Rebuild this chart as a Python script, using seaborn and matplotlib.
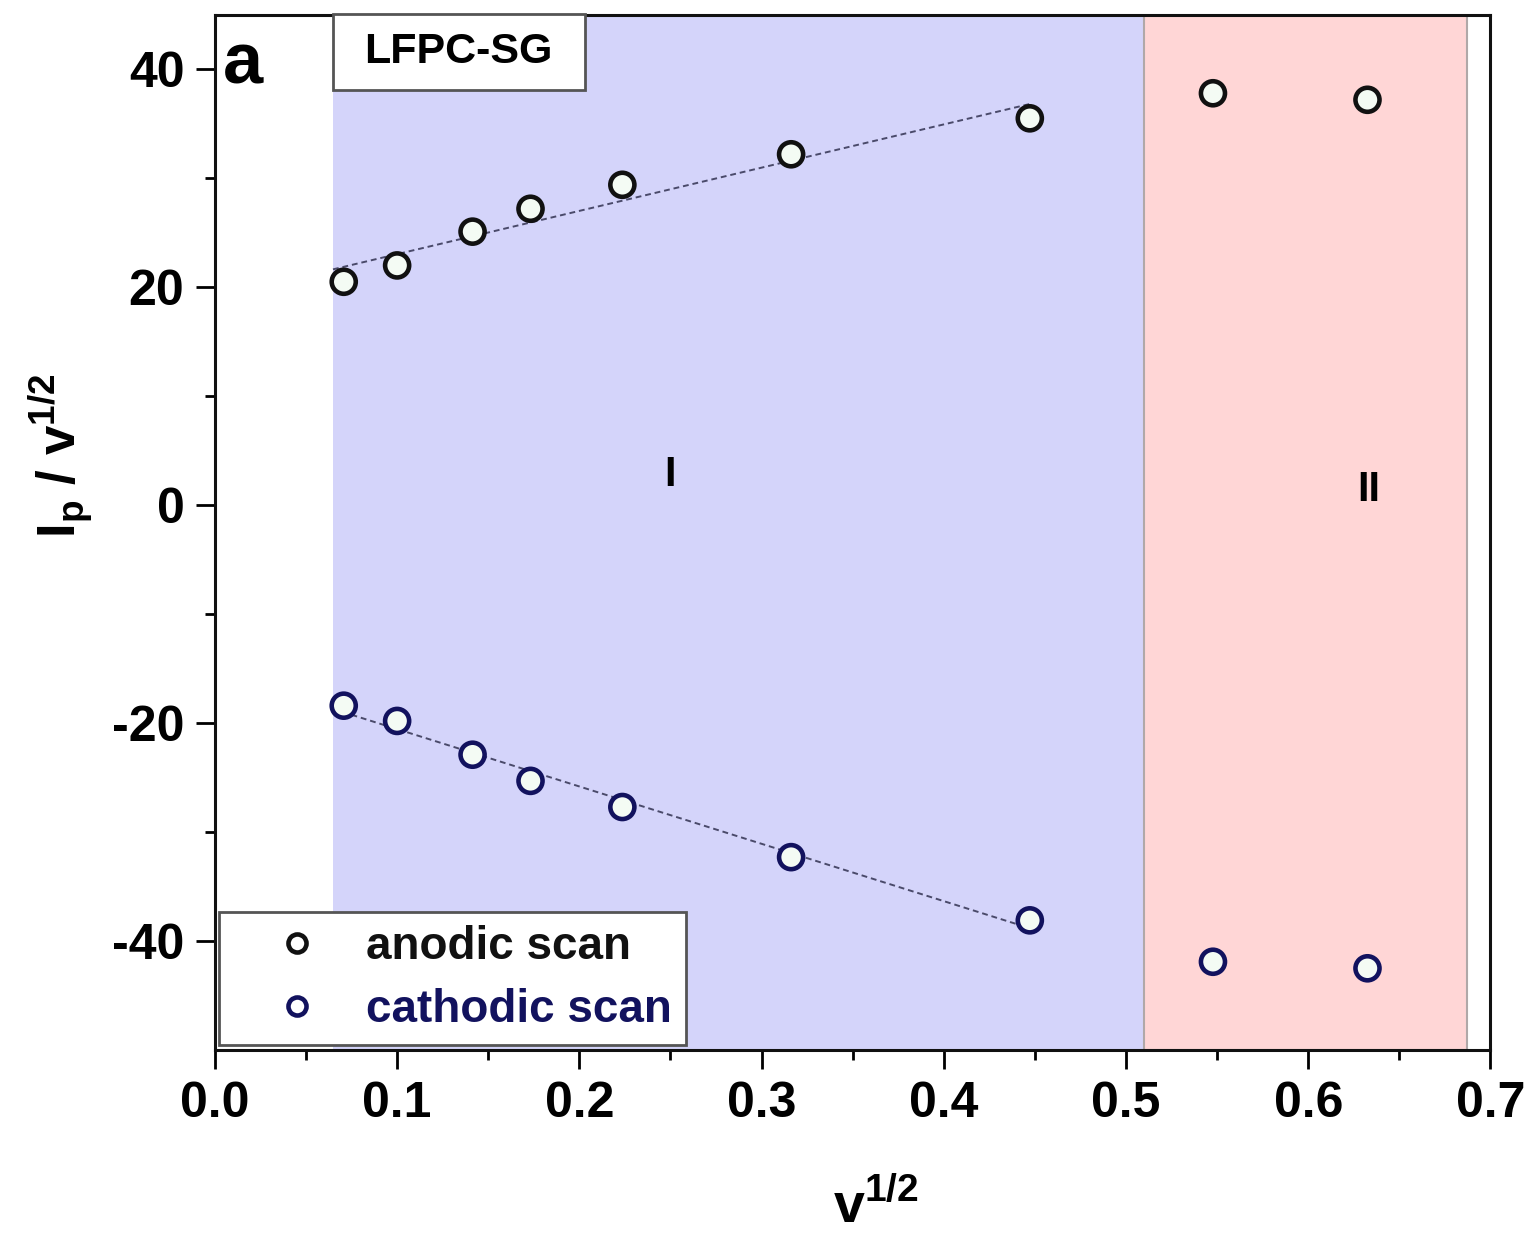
import numpy as np
import pandas as pd
import matplotlib
matplotlib.use("Agg")
import matplotlib.pyplot as plt
from matplotlib.patches import Rectangle
import seaborn as sns

# Data
sqrt_v = [0.0707, 0.1000, 0.1414, 0.1732, 0.2236, 0.3162, 0.4472, 0.5477, 0.6325]
anodic = [20.5, 22.0, 25.1, 27.2, 29.4, 32.2, 35.5, 37.8, 37.2]
cathodic = [-18.4, -19.8, -22.9, -25.3, -27.7, -32.3, -38.1, -41.9, -42.5]
n_fit = 7  # points in region I used for the linear fits

region_I = (0.0648, 0.5096)
region_II = (0.5096, 0.687)

sns.set_theme(style="white")
plt.rcParams['font.family'] = ['Liberation Sans', 'DejaVu Sans']
plt.rcParams['font.weight'] = 'bold'
plt.rcParams['axes.unicode_minus'] = False
plt.rcParams['mathtext.fontset'] = 'custom'
plt.rcParams['mathtext.rm'] = 'Liberation Sans:bold'
plt.rcParams['mathtext.bf'] = 'Liberation Sans:bold'
for key in ['text.color', 'axes.labelcolor', 'xtick.color', 'ytick.color']:
    plt.rcParams[key] = 'black'

df = pd.DataFrame({
    "x": sqrt_v * 2,
    "y": anodic + cathodic,
    "scan": ["anodic scan"] * len(sqrt_v) + ["cathodic scan"] * len(sqrt_v),
})
colors = {"anodic scan": "#111111", "cathodic scan": "#12125e"}
fill = "#f4fbf4"

fig = plt.figure(figsize=(15.35, 12.33), dpi=100)
ax = fig.add_axes([0.140, 0.1484, 0.831, 0.8396])

# shaded regions
ax.axvspan(*region_I, color="#d4d4fa", lw=0, zorder=0)
ax.axvspan(*region_II, facecolor="#ffd6d6", edgecolor="#b0a8a8", lw=1.5, zorder=0)

# linear fits through region I
xf = np.array([region_I[0], sqrt_v[n_fit - 1]])
for series in (anodic, cathodic):
    k, b = np.polyfit(sqrt_v[:n_fit], series[:n_fit], 1)
    ax.plot(xf, k * xf + b, ls=(0, (3, 2)), color="#4a4a6a", lw=1.4, zorder=2)

sns.scatterplot(data=df, x="x", y="y", hue="scan", palette=colors, ax=ax,
                marker="o", s=300, linewidth=3.3, zorder=3, legend=False)
# open markers: edge colour per series, light fill
for coll in ax.collections:
    ec = coll.get_facecolors()
    coll.set_edgecolors(ec)
    coll.set_facecolor(fill)

ax.set_xlim(0, 0.7)
ax.set_ylim(-50, 45)
ax.set_xticks(np.arange(0, 0.71, 0.1))
ax.set_xticklabels([f"{t:.1f}" for t in np.arange(0, 0.71, 0.1)])
ax.set_xticks(np.arange(0.05, 0.7, 0.1), minor=True)
ax.set_yticks([-40, -20, 0, 20, 40])
ax.set_yticks([-30, -10, 10, 30], minor=True)
ax.tick_params(axis="both", which="major", direction="out", length=14, width=2,
               labelsize=36, bottom=True, left=True, pad=8)
ax.tick_params(axis="both", which="minor", direction="out", length=7, width=2,
               bottom=True, left=True)
for lab in ax.get_xticklabels() + ax.get_yticklabels():
    lab.set_fontweight("bold")
for side in ["left", "bottom", "top", "right"]:
    ax.spines[side].set_color("#111111")
    ax.spines[side].set_linewidth(2.2)

ax.set_xlabel(r"v$^{1/2}$", fontsize=40, fontweight="bold", va="bottom")
ax.xaxis.set_label_coords(0.518, -0.178)
ax.set_ylabel(r"I$_{\rm p}$ / v$^{1/2}$", fontsize=38, fontweight="bold", va="center")
ax.yaxis.set_label_coords(-0.121, 0.574)

# region labels
ax.text(0.25, 2.8, "I", fontsize=30, fontweight="bold", ha="center", va="center")
ax.text(0.633, 1.4, "II", fontsize=30, fontweight="bold", ha="center", va="center")
ax.text(0.006, 0.985, "a", transform=ax.transAxes, fontsize=52, fontweight="bold",
        ha="left", va="top")

# sample label box
ax.add_patch(Rectangle((0.0925, 0.9275), 0.1975, 0.0735, transform=ax.transAxes,
                       facecolor="white", edgecolor="#555555", lw=2, zorder=4,
                       clip_on=False))
ax.text(0.191, 0.964, "LFPC-SG", transform=ax.transAxes, fontsize=31,
        fontweight="bold", ha="center", va="center", zorder=5)

# legend
handles = [plt.Line2D([], [], ls="none", marker="o", markersize=13, markeredgewidth=3.3,
                      markerfacecolor="white", markeredgecolor=colors[k]) for k in colors]
leg = ax.legend(handles, list(colors), loc="lower left", bbox_to_anchor=(0.0, 0.0),
                fontsize=33, frameon=True, fancybox=False, edgecolor="#555555",
                borderpad=0.3, handletextpad=0.1, handlelength=2.8,
                labelspacing=0.4, borderaxespad=0.1)
leg.get_frame().set_linewidth(2)
leg.get_frame().set_alpha(1)
for txt, k in zip(leg.get_texts(), colors):
    txt.set_color(colors[k])
    txt.set_fontweight("bold")

fig.savefig("out.png", dpi=100)
